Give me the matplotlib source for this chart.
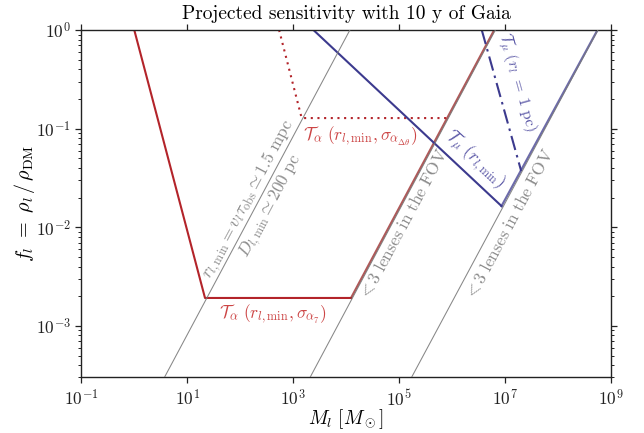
import numpy as np
import matplotlib
matplotlib.use("Agg")
import matplotlib.pyplot as plt

plt.rcParams.update({
    "font.family": "serif",
    "font.serif": ["cmr10"],
    "mathtext.fontset": "cm",
    "axes.formatter.use_mathtext": True,
    "axes.unicode_minus": False,
})

# ---- data ----
# T_alpha (r_l,min, sigma_alpha7)  -- red solid
red_M = [1.0, 21.6, 1.23e4, 6.2e6]
red_f = [1.0, 1.92e-3, 1.92e-3, 1.0]
# T_alpha (r_l,min, sigma_alpha_dtheta) -- red dotted
reddot_M = [5.4e2, 1.44e3, 8.3e5]
reddot_f = [1.0, 0.128, 0.128]
# T_mu (r_l,min) -- blue solid
blue_M = [2.4e3, 8.5e6, 5.5e8]
blue_f = [1.0, 1.64e-2, 1.0]
# T_mu (r_l = 1 pc) -- blue dash-dot
bluedd_M = [3.6e6, 2.0e7]
bluedd_f = [1.0, 3.7e-2]
# thin grey reference lines (bottom and top ends)
grey_M_lo = [3.7, 2.07e3, 1.7e5]
grey_M_hi = [1.17e4, 6.5e6, 5.6e8]
grey_f_lo = [3e-4, 3e-4, 3e-4]
grey_f_hi = [1.0, 1.0, 1.0]

xticks = [1e-1, 1e1, 1e3, 1e5, 1e7, 1e9]

red = "#b3242a"
blue = "#3c3a8e"
red_txt = "#cc4545"
blue_txt = "#5a57a6"
grey_txt = "#8c8c8c"

fig = plt.figure(figsize=(6.44, 4.33), dpi=100)
ax = fig.add_axes([0.1262, 0.1282, 0.8230, 0.8025])
ax.set_xscale("log")
ax.set_yscale("log")
ax.set_xlim(1e-1, 1e9)
ax.set_ylim(3e-4, 1)

# the rising parts run along the grey lines and look washed out
ax.plot(red_M[:3], red_f[:3], color=red, lw=1.5, zorder=2)
ax.plot(red_M[2:], red_f[2:], color="#9c3030", lw=1.6, alpha=0.8, zorder=2)
ax.plot(reddot_M, reddot_f, color=red, lw=1.5, ls=(0, (1, 2.2)), zorder=2)
ax.plot(blue_M[:2], blue_f[:2], color=blue, lw=1.5, zorder=2)
ax.plot(blue_M[1:], blue_f[1:], color=blue, lw=1.6, alpha=0.75, zorder=2)
ax.plot(bluedd_M, bluedd_f, color=blue, lw=1.5, ls=(0, (7, 2.5, 1.2, 2.5)), zorder=2)
for i in range(3):
    ax.plot([grey_M_lo[i], grey_M_hi[i]], [grey_f_lo[i], grey_f_hi[i]],
            color="#7a7a7a", lw=0.75, alpha=0.9, zorder=3)


def angle(M, f):
    p = ax.transData.transform(np.column_stack([M, f]))
    d = p[1] - p[0]
    return np.degrees(np.arctan2(d[1], d[0]))


fig.canvas.draw()
a_up = angle([grey_M_lo[0], grey_M_hi[0]], [grey_f_lo[0], grey_f_hi[0]])
a_mu = angle(blue_M[:2], blue_f[:2])
a_dd = angle(bluedd_M, bluedd_f)

kw = dict(ha="center", va="center", rotation_mode="anchor")
ax.text(10**2.17, 10**-1.72, r"$r_{l,\mathrm{min}} = v_l\tau_{\mathrm{obs}} \simeq 1.5\ \mathrm{mpc}$",
        rotation=a_up, color=grey_txt, fontsize=12.5, **kw)
ax.text(10**2.58, 10**-1.79, r"$D_{l,\mathrm{min}} \simeq 200\ \mathrm{pc}$",
        rotation=a_up, color=grey_txt, fontsize=12.5, **kw)
ax.text(10**5.07, 10**-1.97, r"$<3\ \mathrm{lenses\ in\ the\ FOV}$",
        rotation=a_up, color=grey_txt, fontsize=12.5, **kw)
ax.text(10**7.07, 10**-1.97, r"$<3\ \mathrm{lenses\ in\ the\ FOV}$",
        rotation=a_up, color=grey_txt, fontsize=12.5, **kw)
ax.text(10**2.62, 10**-2.88, r"$\mathcal{T}_\alpha\ (r_{l,\mathrm{min}}, \sigma_{\alpha_7})$",
        color=red_txt, fontsize=12.5, **kw)
ax.text(10**4.26, 10**-1.08, r"$\mathcal{T}_\alpha\ (r_{l,\mathrm{min}}, \sigma_{\alpha_{\Delta\theta}})$",
        color=red_txt, fontsize=12.5, **kw)
ax.text(10**6.43, 10**-1.31, r"$\mathcal{T}_\mu\ (r_{l,\mathrm{min}})$",
        rotation=a_mu, color=blue_txt, fontsize=12.5, **kw)
ax.text(10**7.22, 10**-0.53, r"$\mathcal{T}_\mu\ (r_l\ =\ 1\ \mathrm{pc})$",
        rotation=a_dd, color=blue_txt, fontsize=11.5, **kw)

ax.set_xticks(xticks)
ax.xaxis.set_minor_locator(matplotlib.ticker.NullLocator())
ax.yaxis.set_minor_locator(matplotlib.ticker.LogLocator(base=10, subs=np.arange(2, 10)))
ax.yaxis.set_minor_formatter(matplotlib.ticker.NullFormatter())
ax.tick_params(which="both", direction="out", top=True, right=True, labelsize=12.5, colors="#222222")
ax.tick_params(which="major", length=4, width=0.9)
ax.tick_params(which="minor", length=2.3, width=0.7)
for s in ax.spines.values():
    s.set_linewidth(1.0)
    s.set_color("#222222")

ax.set_xlabel(r"$M_l\ [M_\odot]$", fontsize=14, labelpad=-1)
ax.set_ylabel(r"$f_l\ =\ \rho_l\,/\,\rho_{\mathrm{DM}}$", fontsize=14.5, labelpad=-1)
ax.set_title("Projected sensitivity with 10 y of Gaia", fontsize=14, pad=8)

fig.savefig("out.png", dpi=100)
